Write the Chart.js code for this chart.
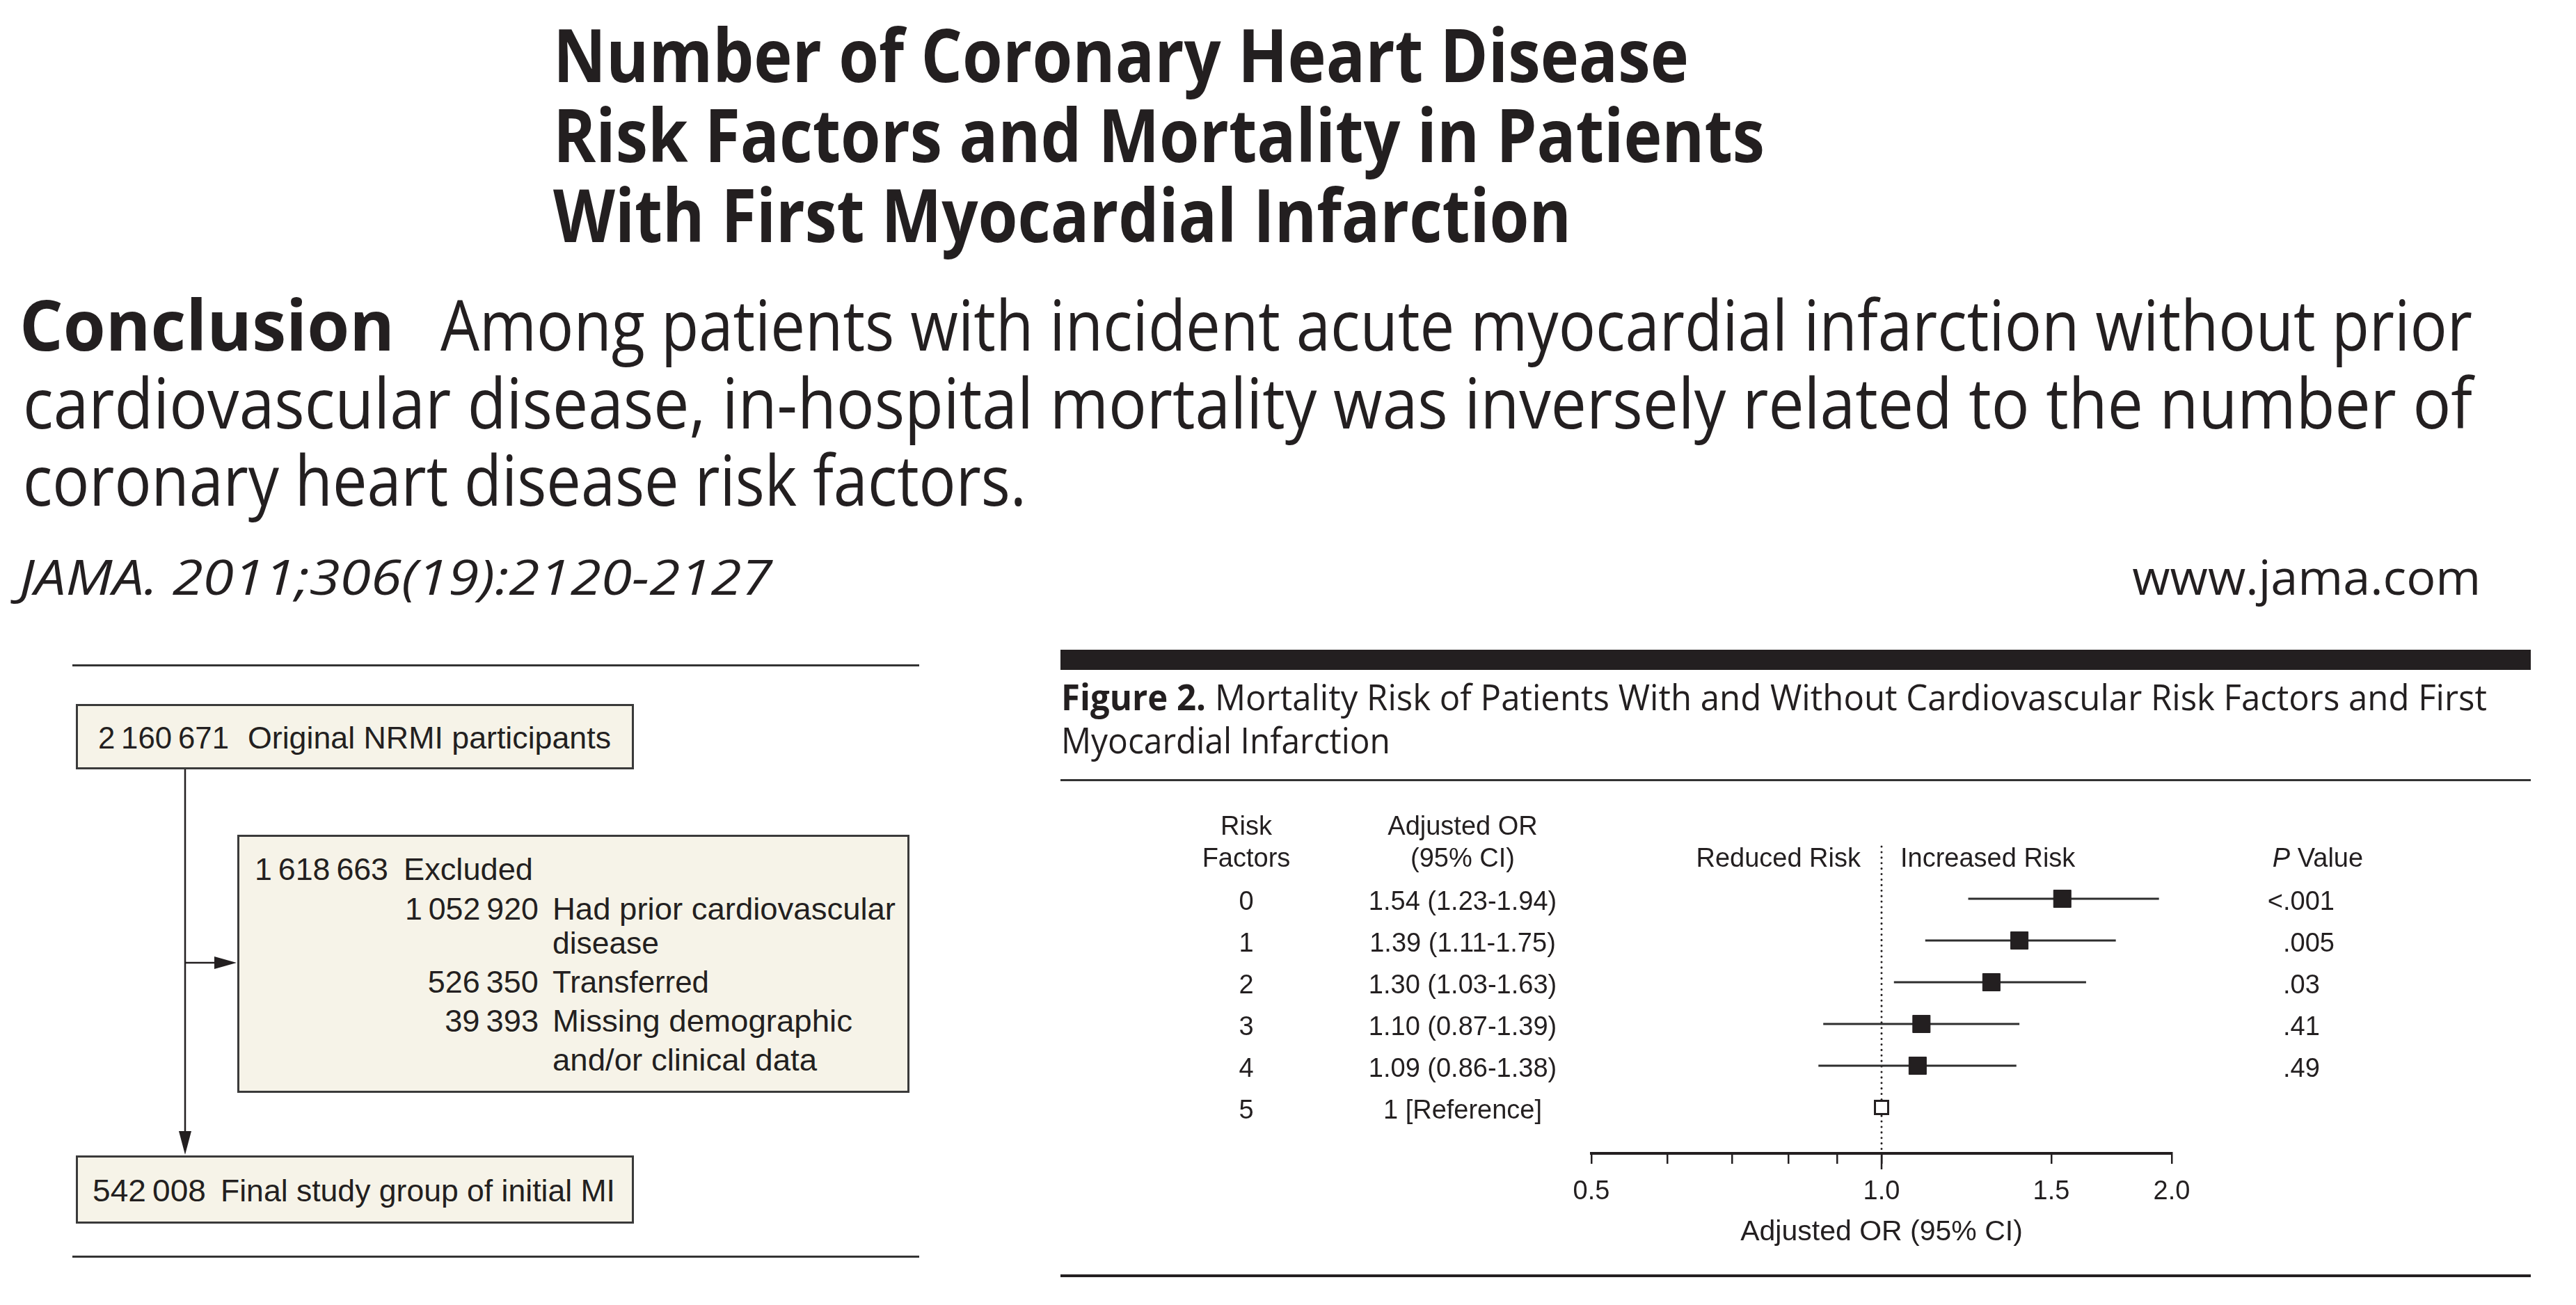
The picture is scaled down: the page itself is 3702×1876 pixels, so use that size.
<!DOCTYPE html>
<html>
<head>
<meta charset="utf-8">
<script src="https://cdn.jsdelivr.net/npm/chart.js@4.4.1/dist/chart.umd.min.js"></script>
<style>
html,body{margin:0;padding:0;background:#fff;}
#page{position:relative;width:3702px;height:1876px;overflow:hidden;background:#fff;}
.t{position:absolute;white-space:nowrap;color:#231f20;}
.rule{position:absolute;background:#231f20;}
.box{position:absolute;box-sizing:border-box;border:3px solid #3a3a3a;background:#f6f3e8;}
#forest{position:absolute;left:1523px;top:1140px;width:2117px;height:660px;}
</style>
</head>
<body>
<div id="page">
  <div class="rule" style="left:1524px;top:934px;width:2113px;height:29px;"></div>
  <div class="rule" style="left:1524px;top:1120px;width:2113px;height:3px;background:#333;"></div>
  <div class="rule" style="left:1524px;top:1832px;width:2113px;height:4px;"></div>
  <div class="rule" style="left:104px;top:955px;width:1217px;height:3px;background:#333;"></div>
  <div class="rule" style="left:104px;top:1805px;width:1217px;height:3px;background:#333;"></div>
  <div class="box" style="left:109px;top:1012px;width:802px;height:94px;"></div>
  <div class="box" style="left:341px;top:1200px;width:966px;height:371px;"></div>
  <div class="box" style="left:109px;top:1661px;width:802px;height:98px;"></div>
  <svg style="position:absolute;left:0;top:0;" width="3702" height="1876">
    <line x1="266" y1="1106" x2="266" y2="1630" stroke="#231f20" stroke-width="2.5"/>
    <polygon points="257,1626 275,1626 266,1660" fill="#231f20"/>
    <line x1="266" y1="1384" x2="312" y2="1384" stroke="#231f20" stroke-width="2.5"/>
    <polygon points="308,1375 308,1393 340,1384" fill="#231f20"/>
  </svg>
  <canvas id="forest" width="2117" height="660"></canvas>
</div>
<script>
// ---------- data ----------
const riskFactors = ['0', '1', '2', '3', '4', '5'];
const oddsRatios = [1.54, 1.39, 1.30, 1.10, 1.09, 1];
const ciLower = [1.23, 1.11, 1.03, 0.87, 0.86, null];
const ciUpper = [1.94, 1.75, 1.63, 1.39, 1.38, null];
const orLabels = ['1.54 (1.23-1.94)', '1.39 (1.11-1.75)', '1.30 (1.03-1.63)', '1.10 (0.87-1.39)', '1.09 (0.86-1.38)', '1 [Reference]'];
const pValues = ['<.001', '.005', '.03', '.41', '.49', ''];
const referenceIndex = 5;
const referenceOR = 1.0;
const xTickValues = [0.5, 0.6, 0.7, 0.8, 0.9, 1.0, 1.5, 2.0];
const xTickLabelled = [0.5, 1.0, 1.5, 2.0];
const flowCounts = [2160671, 1618663, 1052920, 526350, 39393, 542008];
const flowLabels = ['Original NRMI participants', 'Excluded', 'Had prior cardiovascular', 'Transferred', 'Missing demographic', 'Final study group of initial MI'];

// ---------- text helpers ----------
const page = document.getElementById('page');
const FAM = {
  os: {css: "'Open Sans','Noto Sans',sans-serif", k: 0.031},
  ls: {css: "'Liberation Sans',Arial,sans-serif", k: -0.0115}
};
function place(html, o) {
  const s = document.createElement('span');
  s.className = 't';
  s.innerHTML = html;
  const f = FAM[o.fam];
  s.style.fontFamily = f.css;
  s.style.fontSize = o.size + 'px';
  s.style.lineHeight = o.size + 'px';
  s.style.fontWeight = o.weight || 400;
  s.style.fontStyle = o.italic ? 'italic' : 'normal';
  s.style.top = (o.y - o.size / 2 - f.k * o.size) + 'px';
  s.style.left = '0px';
  page.appendChild(s);
  const nat = s.getBoundingClientRect().width;
  const sc = o.w ? o.w / nat : 1;
  const align = o.align || 'left';
  let left = o.x;
  if (align === 'right') left = o.x - nat;
  if (align === 'center') left = o.x - nat / 2;
  s.style.left = left + 'px';
  s.style.transformOrigin = align === 'left' ? 'left center' : (align === 'right' ? 'right center' : 'center center');
  s.style.transform = 'scaleX(' + sc + ')';
}
const fmt = n => String(n).replace(/\B(?=(\d{3})+(?!\d))/g, '\u2009');

// title
place('Number of Coronary Heart Disease', {fam:'os', weight:700, size:105, x:795, y:80.5, w:1632});
place('Risk Factors and Mortality in Patients', {fam:'os', weight:700, size:105, x:795, y:195.5, w:1741});
place('With First Myocardial Infarction', {fam:'os', weight:700, size:105, x:795, y:310.5, w:1463});
// conclusion
place('Conclusion', {fam:'os', weight:700, size:101, x:28, y:469, w:539});
place('Among patients with incident acute myocardial infarction without prior', {fam:'os', size:101, x:633, y:469, w:2920});
place('cardiovascular disease, in-hospital mortality was inversely related to the number of', {fam:'os', size:101, x:33, y:581, w:3520});
place('coronary heart disease risk factors.', {fam:'os', size:101, x:33, y:692, w:1442});
place('JAMA. 2011;306(19):2120-2127', {fam:'os', italic:true, size:70, x:28, y:830, w:1082});
place('www.jama.com', {fam:'os', size:70, x:3565, y:830, w:501, align:'right'});
// figure caption
place('<b>Figure 2.</b> Mortality Risk of Patients With and Without Cardiovascular Risk Factors and First', {fam:'os', size:52, x:1525, y:1003, w:2049});
place('Myocardial Infarction', {fam:'os', size:52, x:1525, y:1065, w:473});
// flowchart
place(fmt(flowCounts[0]), {fam:'ls', size:44, x:141, y:1060, w:188});
place(flowLabels[0], {fam:'ls', size:44, x:356, y:1060, w:522});
place(fmt(flowCounts[1]), {fam:'ls', size:44, x:366, y:1249, w:192});
place(flowLabels[1], {fam:'ls', size:44, x:580, y:1249, w:186});
place(fmt(flowCounts[2]), {fam:'ls', size:44, x:774, y:1306, w:192, align:'right'});
place(flowLabels[2], {fam:'ls', size:44, x:794, y:1306, w:493});
place('disease', {fam:'ls', size:44, x:794, y:1355, w:153});
place(fmt(flowCounts[3]), {fam:'ls', size:44, x:774, y:1411, w:159, align:'right'});
place(flowLabels[3], {fam:'ls', size:44, x:794, y:1411, w:225});
place(fmt(flowCounts[4]), {fam:'ls', size:44, x:774, y:1467, w:135, align:'right'});
place(flowLabels[4], {fam:'ls', size:44, x:794, y:1467, w:431});
place('and/or clinical data', {fam:'ls', size:44, x:794, y:1523, w:380});
place(fmt(flowCounts[5]), {fam:'ls', size:44, x:133, y:1711, w:163});
place(flowLabels[5], {fam:'ls', size:44, x:317, y:1711, w:567});

// ---------- forest plot ----------
const INK = '#231f20';
const FONT = "'Liberation Sans', Arial, sans-serif";
Chart.defaults.font.family = FONT;
Chart.defaults.color = INK;

const ciDatasets = [];
riskFactors.forEach((rf, i) => {
  if (ciLower[i] == null) return;
  ciDatasets.push({
    label: 'CI ' + rf,
    data: [{x: ciLower[i], y: i}, {x: ciUpper[i], y: i}],
    showLine: true,
    borderColor: '#2e2e2e',
    borderWidth: 3,
    pointRadius: 0,
    order: 2
  });
});
const pointDataset = {
  label: 'Adjusted OR',
  data: oddsRatios.map((v, i) => ({x: v, y: i})),
  pointStyle: 'rect',
  pointRadius: oddsRatios.map((v, i) => i === referenceIndex ? 13.4 : 17.7),
  pointBackgroundColor: oddsRatios.map((v, i) => i === referenceIndex ? '#ffffff' : INK),
  pointBorderColor: INK,
  pointBorderWidth: oddsRatios.map((v, i) => i === referenceIndex ? 3 : 1),
  showLine: false,
  order: 1
};

const forestPlugin = {
  id: 'forestText',
  beforeDatasetsDraw(chart) {
    const {ctx, chartArea, scales: {x}} = chart;
    const px = x.getPixelForValue(referenceOR);
    ctx.save();
    ctx.strokeStyle = INK;
    ctx.lineWidth = 3;
    ctx.lineCap = 'round';
    ctx.setLineDash([0.1, 7.8]);
    ctx.beginPath();
    ctx.moveTo(px, chartArea.top);
    ctx.lineTo(px, chartArea.bottom - 5);
    ctx.stroke();
    ctx.restore();
  },
  afterDraw(chart) {
    const {ctx, chartArea, scales: {x, y}} = chart;
    const px = x.getPixelForValue(referenceOR);
    ctx.save();
    ctx.strokeStyle = INK;
    ctx.lineWidth = 2.5;
    ctx.beginPath();
    ctx.moveTo(px, chartArea.bottom);
    ctx.lineTo(px, chartArea.bottom + 23);
    ctx.stroke();

    const F = 38;
    const base = c => c + 0.358 * F;
    ctx.fillStyle = INK;
    ctx.textBaseline = 'alphabetic';
    ctx.font = F + 'px ' + FONT;
    const riskX = 268, orX = 579, pDec = 1758, pHeadX = 1808;
    const h1 = 46, h2 = 92;
    ctx.textAlign = 'center';
    ctx.fillText('Risk', riskX, base(h1));
    ctx.fillText('Factors', riskX, base(h2));
    ctx.fillText('Adjusted OR', orX, base(h1));
    ctx.fillText('(95% CI)', orX, base(h2));
    ctx.textAlign = 'right';
    ctx.fillText('Reduced Risk', px - 30, base(h2));
    ctx.textAlign = 'left';
    ctx.fillText('Increased Risk', px + 27, base(h2));
    // P Value header
    ctx.font = 'italic ' + F + 'px ' + FONT;
    const wP = ctx.measureText('P').width;
    ctx.font = F + 'px ' + FONT;
    const wV = ctx.measureText(' Value').width;
    const startP = pHeadX - (wP + wV) / 2;
    ctx.font = 'italic ' + F + 'px ' + FONT;
    ctx.fillText('P', startP, base(h2));
    ctx.font = F + 'px ' + FONT;
    ctx.fillText(' Value', startP + wP, base(h2));

    riskFactors.forEach((rf, i) => {
      const cy = y.getPixelForValue(i) + 2;
      ctx.textAlign = 'center';
      ctx.fillText(rf, riskX, base(cy));
      ctx.fillText(orLabels[i], orX, base(cy));
      if (pValues[i]) {
        const pre = pValues[i].split('.')[0];
        const w = ctx.measureText(pre).width;
        ctx.textAlign = 'left';
        ctx.fillText(pValues[i], pDec - w, base(cy));
      }
    });
    ctx.restore();
  }
};

new Chart(document.getElementById('forest'), {
  type: 'scatter',
  data: {datasets: [pointDataset, ...ciDatasets]},
  options: {
    responsive: false,
    devicePixelRatio: 1,
    animation: false,
    events: [],
    layout: {padding: {left: 764, right: 519, top: 77, bottom: 0}},
    plugins: {legend: {display: false}, tooltip: {enabled: false}, title: {display: false}},
    scales: {
      x: {
        type: 'logarithmic',
        position: 'bottom',
        min: 0.5,
        max: 2.0,
        afterBuildTicks: (scale) => { scale.ticks = xTickValues.map(v => ({value: v})); },
        afterFit: (scale) => { scale.height = 142; },
        ticks: {
          autoSkip: false,
          maxRotation: 0,
          padding: 18,
          color: INK,
          font: {size: 38, family: FONT},
          callback: (v) => xTickLabelled.some(t => Math.abs(t - v) < 1e-9) ? Number(v).toFixed(1) : ''
        },
        grid: {display: true, drawOnChartArea: false, drawTicks: true, tickLength: 15, color: INK, lineWidth: 2.5},
        border: {display: true, color: INK, width: 4},
        title: {display: true, text: 'Adjusted OR (95% CI)', color: INK, font: {size: 41, family: FONT}, padding: {top: 0, bottom: 4}}
      },
      y: {
        type: 'linear',
        reverse: true,
        min: -1.25,
        max: 6.1,
        display: false
      }
    }
  },
  plugins: [forestPlugin]
});
</script>
</body>
</html>
